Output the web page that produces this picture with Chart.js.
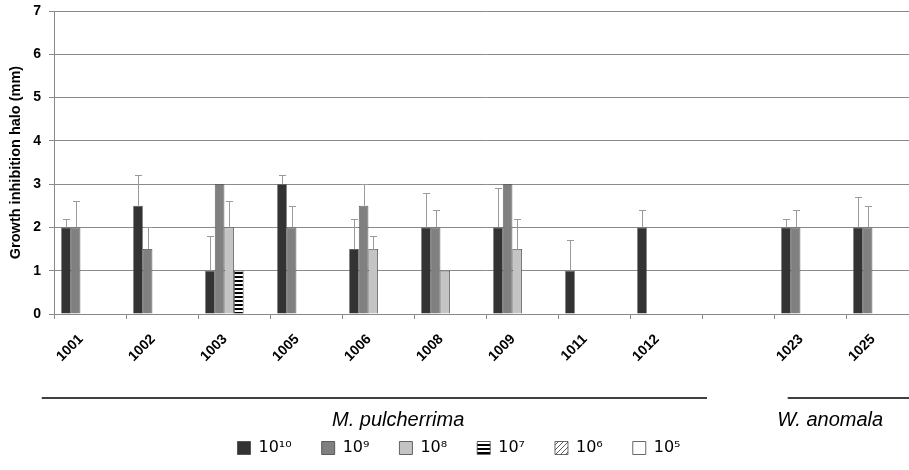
<!DOCTYPE html>
<html>
<head>
<meta charset="utf-8">
<script src="https://cdn.jsdelivr.net/npm/chart.js@4"></script>
<style>
    html, body { margin: 0; padding: 0; background: #fff; overflow: hidden; }
    #wrap { width: 909px; height: 470px; overflow: hidden; }
</style>
</head>
<body>
<div id="wrap"><canvas id="haloChart" width="930" height="470"></canvas></div>
<script>
// ===== DATA =====
const strains = ['1001', '1002', '1003', '1005', '1006', '1008', '1009', '1011', '1012', '', '1023', '1025'];
const doseLabels = ['10¹⁰', '10⁹', '10⁸', '10⁷', '10⁶', '10⁵'];

const halo1e10 = [2, 2.5, 1, 3, 1.5, 2, 2, 1, 2, 0, 2, 2];
const halo1e9  = [2, 1.5, 3, 2, 2.5, 2, 3, 0, 0, 0, 2, 2];
const halo1e8  = [0, 0, 2, 0, 1.5, 1, 1.5, 0, 0, 0, 0, 0];
const halo1e7  = [0, 0, 1, 0, 0, 0, 0, 0, 0, 0, 0, 0];
const halo1e6  = [0, 0, 0, 0, 0, 0, 0, 0, 0, 0, 0, 0];
const halo1e5  = [0, 0, 0, 0, 0, 0, 0, 0, 0, 0, 0, 0];

// upper error (SD)
const err1e10 = [0.2, 0.7, 0.8, 0.2, 0.7, 0.8, 0.9, 0.7, 0.4, 0, 0.2, 0.7];
const err1e9  = [0.6, 0.5, 0, 0.5, 0.5, 0.4, 0, 0, 0, 0, 0.4, 0.5];
const err1e8  = [0, 0, 0.6, 0, 0.3, 0, 0.7, 0, 0, 0, 0, 0];
const err1e7  = [0, 0, 0, 0, 0, 0, 0, 0, 0, 0, 0, 0];

const yTicks = [0, 1, 2, 3, 4, 5, 6, 7];

// species groups under the axis (positions in category units)
const groupNames = ['M. pulcherrima', 'W. anomala'];
const groupFrom = [-0.67, 9.69];
const groupTo = [8.57, 12.6];
const groupLabelAt = [4.28, 10.28];

// ---- patterns ----
function stripePattern() {
    const c = document.createElement('canvas');
    c.width = 4; c.height = 4;
    const g = c.getContext('2d');
    g.fillStyle = '#fff'; g.fillRect(0, 0, 4, 4);
    g.fillStyle = '#000'; g.fillRect(0, 0, 4, 2);
    return g.createPattern(c, 'repeat');
}
function hatchPattern() {
    const c = document.createElement('canvas');
    c.width = 5; c.height = 5;
    const g = c.getContext('2d');
    g.fillStyle = '#fff'; g.fillRect(0, 0, 5, 5);
    g.strokeStyle = '#333'; g.lineWidth = 0.8;
    g.beginPath();
    g.moveTo(0, 5); g.lineTo(5, 0);
    g.moveTo(-1, 1); g.lineTo(1, -1);
    g.moveTo(4, 6); g.lineTo(6, 4);
    g.stroke();
    return g.createPattern(c, 'repeat');
}

const errorBars = {
    id: 'errorBars',
    afterDatasetsDraw(chart) {
        const ctx = chart.ctx;
        const y = chart.scales.y;
        ctx.save();
        ctx.strokeStyle = '#9a9a9a';
        ctx.lineWidth = 1;
        chart.data.datasets.forEach((ds, di) => {
            if (!ds.errors) return;
            const meta = chart.getDatasetMeta(di);
            meta.data.forEach((bar, i) => {
                const e = ds.errors[i];
                if (!e) return;
                const x = Math.round(bar.x) + 0.5;
                const top = Math.round(y.getPixelForValue(ds.data[i] + e)) + 0.5;
                ctx.beginPath();
                ctx.moveTo(x, bar.y);
                ctx.lineTo(x, top);
                ctx.moveTo(x - 3.5, top);
                ctx.lineTo(x + 3.5, top);
                ctx.stroke();
            });
        });
        ctx.restore();
    }
};

const speciesGroups = {
    id: 'speciesGroups',
    afterDraw(chart) {
        const ctx = chart.ctx;
        const x = chart.scales.x;
        const base = chart.chartArea.bottom;
        const step = x.getPixelForValue(1) - x.getPixelForValue(0);
        const px = v => x.getPixelForValue(0) + v * step;
        ctx.save();
        ctx.strokeStyle = '#000';
        ctx.lineWidth = 1.3;
        ctx.fillStyle = '#000';
        ctx.font = 'italic 20px "Liberation Sans", Arial, sans-serif';
        ctx.textAlign = 'center';
        ctx.textBaseline = 'middle';
        groupNames.forEach((name, i) => {
            ctx.beginPath();
            ctx.moveTo(px(groupFrom[i]), base + 84);
            ctx.lineTo(px(groupTo[i]), base + 84);
            ctx.stroke();
            ctx.fillText(name, px(groupLabelAt[i]), base + 106);
        });
        ctx.restore();
    }
};

const barStyle = { borderColor: '#444', borderWidth: 0.8 };

new Chart(document.getElementById('haloChart'), {
    type: 'bar',
    data: {
        labels: strains,
        datasets: [
            { label: doseLabels[0], data: halo1e10, errors: err1e10, backgroundColor: '#333333', ...barStyle },
            { label: doseLabels[1], data: halo1e9, errors: err1e9, backgroundColor: '#808080', ...barStyle },
            { label: doseLabels[2], data: halo1e8, errors: err1e8, backgroundColor: '#c4c4c4', ...barStyle },
            { label: doseLabels[3], data: halo1e7, errors: err1e7, backgroundColor: stripePattern(), ...barStyle },
            { label: doseLabels[4], data: halo1e6, backgroundColor: hatchPattern(), ...barStyle },
            { label: doseLabels[5], data: halo1e5, backgroundColor: '#ffffff', ...barStyle },
        ]
    },
    options: {
        responsive: false,
        animation: false,
        layout: { padding: { left: 0, right: 12, top: 0, bottom: 4 } },
        datasets: { bar: { categoryPercentage: 0.8, barPercentage: 1.0 } },
        plugins: {
            tooltip: { enabled: false },
            legend: {
                position: 'bottom',
                labels: {
                    boxWidth: 13, boxHeight: 13, padding: 30, color: '#000',
                    font: { family: '"DejaVu Sans", sans-serif', size: 16 }
                }
            }
        },
        scales: {
            x: {
                offset: true,
                grid: { offset: true, drawOnChartArea: false, drawTicks: true, tickLength: 5, color: '#888' },
                border: { color: '#888', width: 1 },
                ticks: {
                    color: '#000', minRotation: 45, maxRotation: 45, autoSkip: false, padding: 12, labelOffset: -9,
                    font: { family: '"Liberation Sans", Arial, sans-serif', size: 14, weight: 'bold' }
                },
                afterFit: s => { s.height = 96; }
            },
            y: {
                min: 0, max: 7,
                afterBuildTicks: s => { s.ticks = yTicks.map(v => ({ value: v })); },
                grid: { color: '#8a8a8a', lineWidth: 1, tickLength: 5 },
                border: { color: '#888', width: 1 },
                ticks: {
                    color: '#000', padding: 8,
                    font: { family: '"Liberation Sans", Arial, sans-serif', size: 14, weight: 'bold' }
                },
                title: {
                    display: true, text: 'Growth inhibition halo (mm)', color: '#000', padding: { top: 7, bottom: 0 },
                    font: { family: '"Liberation Sans", Arial, sans-serif', size: 14.5, weight: 'bold' }
                },
                afterFit: s => { s.width = 54; s.paddingTop = 11; }
            }
        }
    },
    plugins: [errorBars, speciesGroups]
});
</script>
</body>
</html>
